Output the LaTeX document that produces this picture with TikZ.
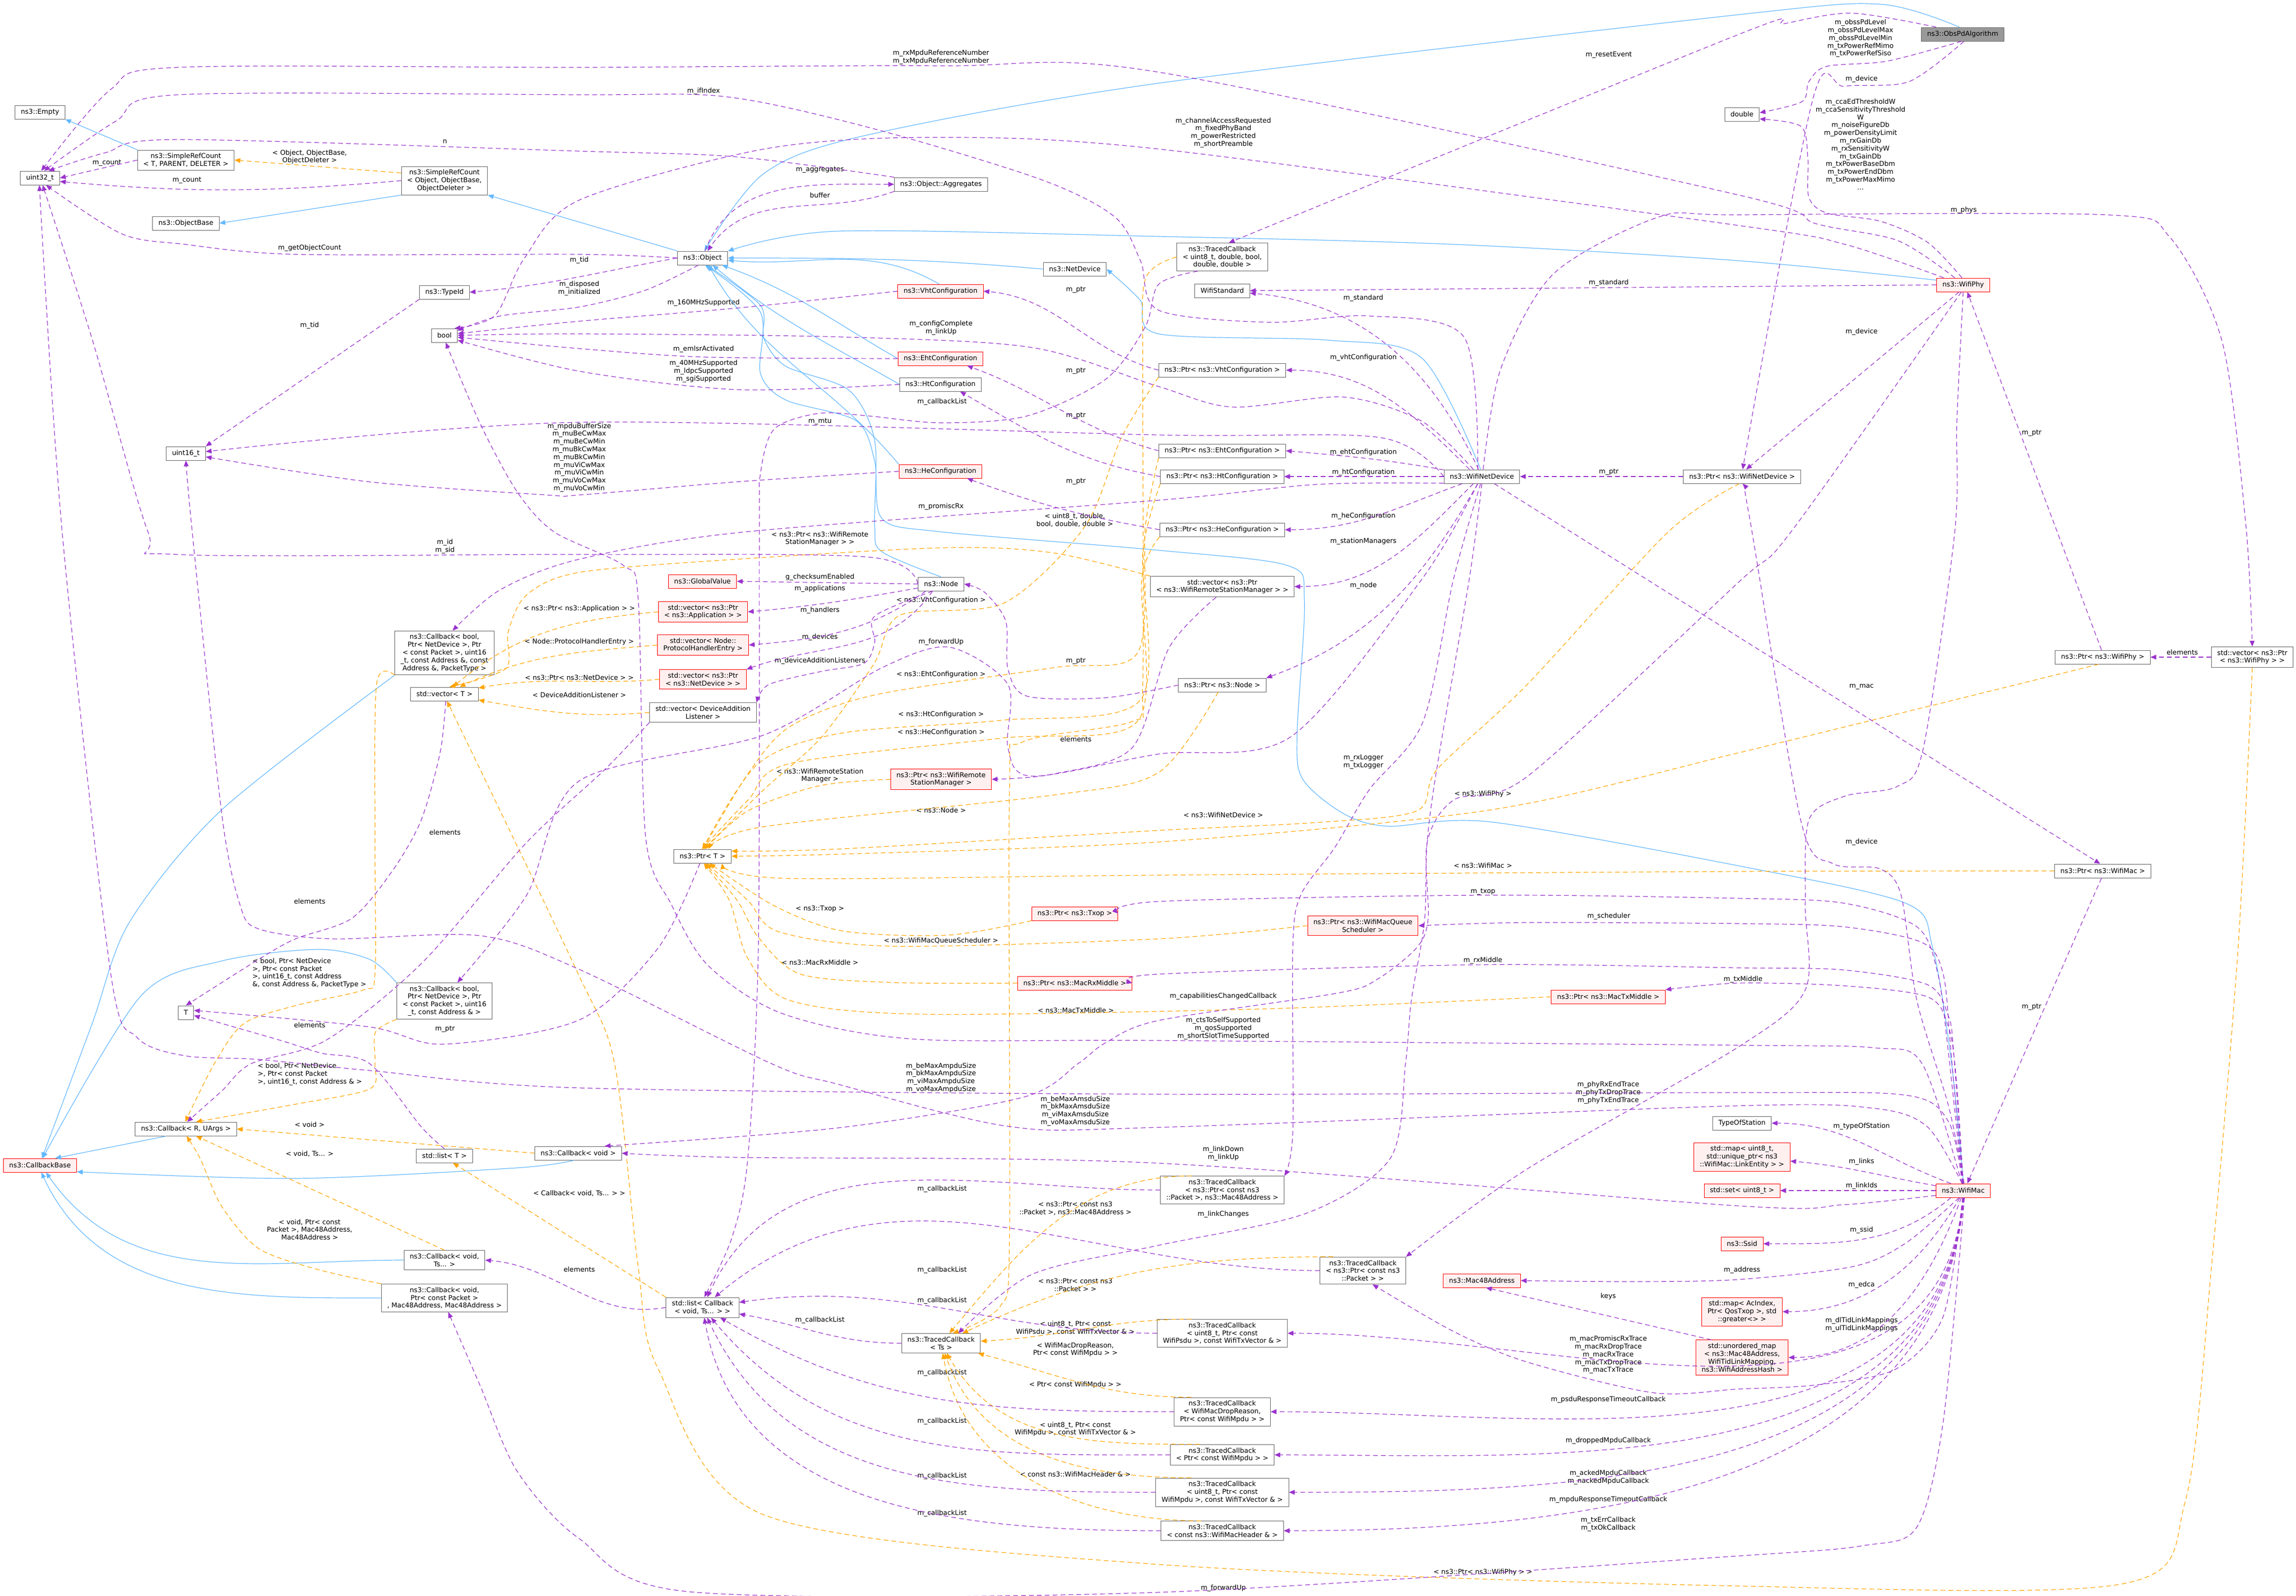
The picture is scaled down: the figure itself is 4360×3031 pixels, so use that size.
\documentclass[tikz,border=0pt]{standalone}
\usepackage{fontspec}
\setmainfont{DejaVu Sans}
\usetikzlibrary{arrows.meta}
\definecolor{usecol}{HTML}{9A32CD}
\definecolor{inhcol}{HTML}{63B8FF}
\definecolor{tplcol}{HTML}{FFA500}
\definecolor{boxcol}{HTML}{666666}
\definecolor{hotcol}{HTML}{FFF0F0}
\definecolor{curcol}{HTML}{999999}
\begin{document}
\begin{tikzpicture}[x=0.5pt, y=-0.5pt, >={Triangle[length=5.5pt,width=4.5pt]}]
	\useasboundingbox (0,0) rectangle (4360,3031);
	\fill[white] (0,0) rectangle (4360,3031);
	\fontsize{6.4}{7.4}\selectfont
	\tikzstyle{cls}=[draw=boxcol, fill=white, line width=0.5pt, inner xsep=5.5pt, inner ysep=3pt, minimum height=13pt, align=center]
	\tikzstyle{hot}=[cls, draw=red, fill=hotcol]
	\tikzstyle{cur}=[cls, fill=curcol]
	\tikzstyle{lbl}=[inner sep=0pt, align=center]
	\tikzstyle{uses}=[->, draw=usecol, line width=0.6pt, dash pattern=on 4.5pt off 3pt]
	\tikzstyle{inst}=[->, draw=tplcol, line width=0.6pt, dash pattern=on 4.5pt off 3pt]
	\tikzstyle{inher}=[->, draw=inhcol, line width=0.6pt]
	\node[cls] (empty) at (76,213) {ns3::Empty};
	\node[cls] (u32) at (76,338) {uint32\_t};
	\node[cls] (srct) at (353,304) {ns3::SimpleRefCount\\< T, PARENT, DELETER >};
	\node[cls] (srco) at (844,343) {ns3::SimpleRefCount\\< Object, ObjectBase,\\ObjectDeleter >};
	\node[cls] (objbase) at (353,424) {ns3::ObjectBase};
	\node[cls] (typeid) at (844,555) {ns3::TypeId};
	\node[cls] (bool) at (844,637) {bool};
	\node[cls] (u16) at (353,861) {uint16\_t};
	\node[cls] (aggr) at (1787,350) {ns3::Object::Aggregates};
	\node[cls] (obj) at (1334,490) {ns3::Object};
	\node[cls] (netdev) at (2041,511) {ns3::NetDevice};
	\node[hot] (vht) at (1786,553) {ns3::VhtConfiguration};
	\node[hot] (eht) at (1786,681) {ns3::EhtConfiguration};
	\node[cls] (ht) at (1786,730) {ns3::HtConfiguration};
	\node[hot] (he) at (1786,895) {ns3::HeConfiguration};
	\node[cls] (tcreset) at (2321,488) {ns3::TracedCallback\\< uint8\_t, double, bool,\\double, double >};
	\node[cls] (stdwifi) at (2321,552) {WifiStandard};
	\node[cls] (pvht) at (2321,703) {ns3::Ptr< ns3::VhtConfiguration >};
	\node[cls] (peht) at (2321,856) {ns3::Ptr< ns3::EhtConfiguration >};
	\node[cls] (pht) at (2321,905) {ns3::Ptr< ns3::HtConfiguration >};
	\node[cls] (phe) at (2321,1006) {ns3::Ptr< ns3::HeConfiguration >};
	\node[cls] (wnd) at (2814,905) {ns3::WifiNetDevice};
	\node[cls] (pwnd) at (3308,905) {ns3::Ptr< ns3::WifiNetDevice >};
	\node[cls] (dbl) at (3308,217) {double};
	\node[cur] (obss) at (3727,65) {ns3::ObsPdAlgorithm};
	\node[hot] (phy) at (3728,541) {ns3::WifiPhy};
	\node[cls] (cbpt) at (844,1240) {ns3::Callback< bool,\\Ptr< NetDevice >, Ptr\\< const Packet >, uint16\\\_t, const Address \&, const\\Address \&, PacketType >};
	\node[cls] (vect) at (844,1318) {std::vector< T >};
	\node[cls] (tpar) at (353,1923) {T};
	\node[cls] (cbad) at (844,1901) {ns3::Callback< bool,\\Ptr< NetDevice >, Ptr\\< const Packet >, uint16\\\_t, const Address \& >};
	\node[hot] (cbbase) at (76,2213) {ns3::CallbackBase};
	\node[cls] (cbr) at (353,2144) {ns3::Callback< R, UArgs >};
	\node[cls] (listt) at (844,2195) {std::list< T >};
	\node[cls] (cbvoid) at (1098,2190) {ns3::Callback< void >};
	\node[cls] (cbts) at (844,2393) {ns3::Callback< void,\\Ts... >};
	\node[cls] (cbmac) at (844,2465) {ns3::Callback< void,\\Ptr< const Packet >\\, Mac48Address, Mac48Address >};
	\node[hot] (gv) at (1334,1104) {ns3::GlobalValue};
	\node[hot] (vapp) at (1335,1162) {std::vector< ns3::Ptr\\< ns3::Application > >};
	\node[hot] (vproto) at (1335,1225) {std::vector< Node::\\ProtocolHandlerEntry >};
	\node[hot] (vdev) at (1335,1290) {std::vector< ns3::Ptr\\< ns3::NetDevice > >};
	\node[cls] (vlisten) at (1335,1353) {std::vector< DeviceAddition\\Listener >};
	\node[cls] (nsnode) at (1787,1109) {ns3::Node};
	\node[hot] (pwrsm) at (1787,1480) {ns3::Ptr< ns3::WifiRemote\\StationManager >};
	\node[cls] (ptrt) at (1334,1626) {ns3::Ptr< T >};
	\node[hot] (ptxop) at (2041,1735) {ns3::Ptr< ns3::Txop >};
	\node[hot] (prx) at (2041,1867) {ns3::Ptr< ns3::MacRxMiddle >};
	\node[cls] (vwrsm) at (2321,1114) {std::vector< ns3::Ptr\\< ns3::WifiRemoteStationManager > >};
	\node[cls] (pnode) at (2321,1301) {ns3::Ptr< ns3::Node >};
	\node[hot] (psched) at (2588,1758) {ns3::Ptr< ns3::WifiMacQueue\\Scheduler >};
	\node[hot] (ptx) at (3054,1893) {ns3::Ptr< ns3::MacTxMiddle >};
	\node[cls] (pphy) at (3993,1248) {ns3::Ptr< ns3::WifiPhy >};
	\node[cls] (vphy) at (4277,1248) {std::vector< ns3::Ptr\\< ns3::WifiPhy > >};
	\node[cls] (pmac) at (3993,1654) {ns3::Ptr< ns3::WifiMac >};
	\node[cls] (listcb) at (1334,2483) {std::list< Callback\\< void, Ts... > >};
	\node[cls] (tcts) at (1787,2551) {ns3::TracedCallback\\< Ts >};
	\node[cls] (tos) at (3308,2133) {TypeOfStation};
	\node[hot] (maplink) at (3308,2197) {std::map< uint8\_t,\\std::unique\_ptr< ns3\\::WifiMac::LinkEntity > >};
	\node[hot] (setu8) at (3308,2261) {std::set< uint8\_t >};
	\node[cls] (tclink) at (2321,2260) {ns3::TracedCallback\\< ns3::Ptr< const ns3\\::Packet >, ns3::Mac48Address >};
	\node[hot] (ssid) at (3308,2362) {ns3::Ssid};
	\node[cls] (tcpkt) at (2588,2413) {ns3::TracedCallback\\< ns3::Ptr< const ns3\\::Packet > >};
	\node[hot] (mac48) at (2814,2432) {ns3::Mac48Address};
	\node[hot] (mapedca) at (3308,2491) {std::map< AcIndex,\\Ptr< QosTxop >, std\\::greater<> >};
	\node[hot] (umap) at (3308,2578) {std::unordered\_map\\< ns3::Mac48Address,\\WifiTidLinkMapping,\\ns3::WifiAddressHash >};
	\node[cls] (tcpsdu) at (2321,2532) {ns3::TracedCallback\\< uint8\_t, Ptr< const\\WifiPsdu >, const WifiTxVector \& >};
	\node[cls] (tcdrop) at (2321,2681) {ns3::TracedCallback\\< WifiMacDropReason,\\Ptr< const WifiMpdu > >};
	\node[cls] (tcmpdu) at (2321,2763) {ns3::TracedCallback\\< Ptr< const WifiMpdu > >};
	\node[cls] (tcmpdutx) at (2321,2834) {ns3::TracedCallback\\< uint8\_t, Ptr< const\\WifiMpdu >, const WifiTxVector \& >};
	\node[cls] (tchdr) at (2321,2907) {ns3::TracedCallback\\< const ns3::WifiMacHeader \& >};
	\node[hot] (mac) at (3728,2261) {ns3::WifiMac};
	\foreach \n/\x/\y/\txt in {
	    lrxmpdu/1787/109/{m\_rxMpduReferenceNumber\\m\_txMpduReferenceNumber},
	    lifindex/1336/173/{m\_ifIndex}, ln/845/269/{n},
	    lsrc/588/298/{< Object, ObjectBase,\\ObjectDeleter >},
	    lcount1/203/310/{m\_count}, lcount2/355/343/{m\_count},
	    laggr/1557/323/{m\_aggregates}, lbuffer/1557/371/{buffer},
	    lgetcount/588/471/{m\_getObjectCount}, ltid1/1100/494/{m\_tid},
	    ldisposed/1100/548/{m\_disposed\\m\_initialized},
	    l160/1336/575/{m\_160MHzSupported}, ltid2/588/618/{m\_tid},
	    lconfig/1787/623/{m\_configComplete\\m\_linkUp},
	    lemlsr/1336/663/{m\_emlsrActivated},
	    l40/1336/705/{m\_40MHzSupported\\m\_ldpcSupported\\m\_sgiSupported},
	    lcbl1/1789/763/{m\_callbackList}, lmtu/1557/801/{m\_mtu},
	    lmpdubuf/1100/869/{m\_mpduBufferSize\\m\_muBeCwMax\\m\_muBeCwMin\\m\_muBkCwMax\\m\_muBkCwMin\\m\_muViCwMax\\m\_muViCwMin\\m\_muVoCwMax\\m\_muVoCwMin},
	    lptrvht/2043/551/{m\_ptr}, lptreht/2043/705/{m\_ptr},
	    lptrht/2043/790/{m\_ptr}, lptrhe/2043/915/{m\_ptr},
	    lpromisc/1787/962/{m\_promiscRx},
	    ltcreset/2041/988/{< uint8\_t, double,\\bool, double, double >},
	    lreset/3055/104/{m\_resetEvent},
	    lchan/2323/252/{m\_channelAccessRequested\\m\_fixedPhyBand\\m\_powerRestricted\\m\_shortPreamble},
	    lstd1/3055/537/{m\_standard}, lstd2/2589/566/{m\_standard},
	    lvhtc/2589/679/{m\_vhtConfiguration}, lehtc/2589/859/{m\_ehtConfiguration},
	    lhtc/2589/897/{m\_htConfiguration}, lptrwnd/3055/897/{m\_ptr},
	    lhec/2589/980/{m\_heConfiguration},
	    lobss/3533/73/{m\_obssPdLevel\\m\_obssPdLevelMax\\m\_obssPdLevelMin\\m\_txPowerRefMimo\\m\_txPowerRefSiso},
	    ldev1/3535/150/{m\_device},
	    lcca/3533/274/{m\_ccaEdThresholdW\\m\_ccaSensitivityThreshold\\W\\m\_noiseFigureDb\\m\_powerDensityLimit\\m\_rxGainDb\\m\_rxSensitivityW\\m\_txGainDb\\m\_txPowerBaseDbm\\m\_txPowerEndDbm\\m\_txPowerMaxMimo\\...},
	    lphys/3729/399/{m\_phys}, ldev2/3535/630/{m\_device}, lptrphy/3858/823/{m\_ptr}}
	    \node[lbl] (\n) at (\x,\y) {\txt};
	\foreach \n/\x/\y/\txt in {
	    lidsid/845/1038/{m\_id\\m\_sid},
	    lvapp/1100/1156/{< ns3::Ptr< ns3::Application > >},
	    lvproto/1100/1219/{< Node::ProtocolHandlerEntry >},
	    lvdev/1100/1287/{< ns3::Ptr< ns3::NetDevice > >},
	    lvlisten/1100/1320/{< DeviceAdditionListener >},
	    lelem1/845/1581/{elements}, lelem2/588/1712/{elements},
	    lelem3/588/1947/{elements}, lptrT/845/1954/{m\_ptr},
	    lwrsm/1557/1023/{< ns3::Ptr< ns3::WifiRemote\\StationManager > >},
	    lgcheck/1557/1096/{g\_checksumEnabled}, lapps/1557/1118/{m\_applications},
	    lpvht/1787/1140/{< ns3::VhtConfiguration >}, lhandlers/1557/1159/{m\_handlers},
	    ldevices/1557/1210/{m\_devices}, lfwd1/1787/1219/{m\_forwardUp},
	    llisteners/1557/1255/{m\_deviceAdditionListeners}, lptrnode/2043/1255/{m\_ptr},
	    lpeht/1787/1281/{< ns3::EhtConfiguration >}, lpht/1787/1357/{< ns3::HtConfiguration >},
	    lphe/1787/1391/{< ns3::HeConfiguration >}, lelem4/2043/1404/{elements},
	    lpwrsm/1557/1473/{< ns3::WifiRemoteStation\\Manager >},
	    lpnode/1787/1539/{< ns3::Node >}, lptxop/1557/1726/{< ns3::Txop >},
	    lpsched/1787/1786/{< ns3::WifiMacQueueScheduler >},
	    lprx/1557/1828/{< ns3::MacRxMiddle >}, lptx/2043/1919/{< ns3::MacTxMiddle >},
	    lstations/2589/1028/{m\_stationManagers}, lnode/2589/1112/{m\_node},
	    llogger/2589/1447/{m\_rxLogger\\m\_txLogger},
	    lpwnd/2323/1548/{< ns3::WifiNetDevice >}, lpphy/2816/1508/{< ns3::WifiPhy >},
	    lpmac/2816/1644/{< ns3::WifiMac >}, ltxop/2816/1693/{m\_txop},
	    lsched/3055/1740/{m\_scheduler}, lrxmid/2816/1824/{m\_rxMiddle},
	    ltxmid/3310/1860/{m\_txMiddle},
	    lcapab/2323/1892/{m\_capabilitiesChangedCallback},
	    lcts/2323/1953/{m\_ctsToSelfSupported\\m\_qosSupported\\m\_shortSlotTimeSupported},
	    lelem5/4144/1239/{elements}, lmac/3535/1304/{m\_mac},
	    ldev3/3535/1599/{m\_device}, lptrmac/3858/1912/{m\_ptr}}
	    \node[lbl] (\n) at (\x,\y) {\txt};
	\foreach \n/\x/\y/\txt in {
	    lvoid/588/2136/{< void >}, lvoidts/588/2191/{< void, Ts... >},
	    lcbmac/588/2335/{< void, Ptr< const\\Packet >, Mac48Address,\\Mac48Address >},
	    llistcb/1100/2266/{< Callback< void, Ts... > >}, lelem6/1100/2411/{elements},
	    lampdu/1787/2047/{m\_beMaxAmpduSize\\m\_bkMaxAmpduSize\\m\_viMaxAmpduSize\\m\_voMaxAmpduSize},
	    lamsdu/2042/2110/{m\_beMaxAmsduSize\\m\_bkMaxAmsduSize\\m\_viMaxAmsduSize\\m\_voMaxAmsduSize},
	    lcbl2/1789/2258/{m\_callbackList},
	    ltclink/2042/2295/{< ns3::Ptr< const ns3\\::Packet >, ns3::Mac48Address >},
	    lcbl3/1789/2412/{m\_callbackList},
	    ltcpkt/2042/2440/{< ns3::Ptr< const ns3\\::Packet > >},
	    lcbl4/1789/2470/{m\_callbackList}, lcbl5/1557/2507/{m\_callbackList},
	    ltcpsdu/2042/2522/{< uint8\_t, Ptr< const\\WifiPsdu >, const WifiTxVector \& >},
	    ltcdrop/2042/2563/{< WifiMacDropReason,\\Ptr< const WifiMpdu > >},
	    lcbl6/1789/2607/{m\_callbackList}, ltcmpdu/2042/2630/{< Ptr< const WifiMpdu > >},
	    lcbl7/1789/2699/{m\_callbackList},
	    ltcmpdutx/2042/2714/{< uint8\_t, Ptr< const\\WifiMpdu >, const WifiTxVector \& >},
	    lcbl8/1789/2803/{m\_callbackList}, ltchdr/2042/2800/{< const ns3::WifiMacHeader \& >},
	    lcbl9/1789/2874/{m\_callbackList},
	    lphytrace/3054/2075/{m\_phyRxEndTrace\\m\_phyTxDropTrace\\m\_phyTxEndTrace},
	    llink/2323/2191/{m\_linkDown\\m\_linkUp}, llinkchg/2323/2306/{m\_linkChanges},
	    laddr/3308/2412/{m\_address}, lkeys/3054/2462/{keys},
	    lmactrace/3054/2573/{m\_macPromiscRxTrace\\m\_macRxDropTrace\\m\_macRxTrace\\m\_macTxDropTrace\\m\_macTxTrace},
	    lpsdu/3054/2658/{m\_psduResponseTimeoutCallback},
	    ldropped/3054/2736/{m\_droppedMpduCallback},
	    lacked/3054/2806/{m\_ackedMpduCallback\\m\_nackedMpduCallback},
	    lmpduresp/3054/2848/{m\_mpduResponseTimeoutCallback},
	    ltxerr/3054/2895/{m\_txErrCallback\\m\_txOkCallback},
	    lvphy/2816/2986/{< ns3::Ptr< ns3::WifiPhy > >}, lfwd2/2323/3016/{m\_forwardUp},
	    ltos/3535/2139/{m\_typeOfStation}, llinks/3535/2206/{m\_links},
	    llinkids/3535/2252/{m\_linkIds}, lssid/3535/2336/{m\_ssid},
	    ledca/3535/2440/{m\_edca},
	    ltid3/3535/2516/{m\_dlTidLinkMappings\\m\_ulTidLinkMappings}}
	    \node[lbl] (\n) at (\x,\y) {\txt};
	\node[lbl, anchor=west, align=left] (lcbpt) at (479,1848) {< bool, Ptr< NetDevice\\>, Ptr< const Packet\\>, uint16\_t, const Address\\\&, const Address \&, PacketType >};
	\node[lbl, anchor=west, align=left] (lcbad) at (489,2040) {< bool, Ptr< NetDevice\\>, Ptr< const Packet\\>, uint16\_t, const Address \& >};
	\path (srct.north west) edge[inher] (empty.south east);
	\path (srco.south west) edge[inher] (objbase.east);
	\path (obj.north west) edge[inher] (srco.south east);
	\draw[inher] plot[smooth] coordinates {(obss.115) (3570,8) (3300,28) (2200,158) (1640,258) (1450,330) (obj.75)};
	\draw[inher] plot[smooth] coordinates {(phy.170) (3300,495) (2760,464) (2200,449) (1591,439) (obj.15)};
	\path (netdev.west) edge[inher, out=175, in=0] (obj.east);
	\path (vht.100) edge[inher, out=150, in=-5] (obj.-5);
	\path (eht.west) edge[inher, out=150, in=-20] (obj.-20);
	\path (ht.west) edge[inher, out=150, in=-40] (obj.-35);
	\path (he.north west) edge[inher, out=130, in=-60] (obj.-50);
	\draw[inher] plot[smooth] coordinates {(nsnode.north) (1675,1048) (1661,1000) (1661,837) (1612,741) (1493,696) (1451,644) (1444,580) (obj.-60)};
	\draw[inher] plot[smooth] coordinates {(mac.88) (3706,2020) (3670,1800) (3618,1715) (3300,1644) (2831,1561) (2635,1569) (2551,1545) (2474,1480) (2463,1396) (2477,1139) (2445,1074) (2200,1045) (1787,1010) (1675,985) (1661,876) (1626,799) (1493,760) (1444,709) (1444,593) (obj.-70)};
	\draw[inher] plot[smooth] coordinates {(wnd.100) (2700,680) (2522,646) (2200,634) (2165,570) (netdev.east)};
	\draw[inher] plot[smooth] coordinates {(cbpt.south west) (421,1538) (246,1751) (175,1944) (cbbase.75)};
	\draw[inher] plot[smooth] coordinates {(cbad.north west) (702,1822) (603,1803) (421,1825) (267,1892) (cbbase.70)};
	\path (cbr.200) edge[inher] (cbbase.25);
	\draw[inher] plot[smooth] coordinates {(cbvoid.-120) (980,2218) (561,2238) (cbbase.-10)};
	\path (cbts.west) edge[inher, out=180, in=-55] (cbbase.-50);
	\path (cbmac.west) edge[inher, out=180, in=-65] (cbbase.-80);
	\path (srco.170) edge[inst] (srct.east);
	\foreach \src/\ang in {vapp/40, vproto/25, vdev/10, vlisten/-10}
	    \path (\src.west) edge[inst, out=185, in=\ang] (vect.\ang);
	\draw[inst] plot[smooth] coordinates {(vwrsm.north west) (2000,1050) (1800,1040) (1400,1062) (1100,1087) (1000,1130) (965,1200) (960,1270) (vect.55)};
	\draw[inst] plot[smooth] coordinates {(vphy.south) (4250,1800) (4200,2400) (4150,2850) (4030,3008) (3300,3012) (2200,2971) (1451,2877) (1250,2600) (1212,2407) (1167,2020) (1094,1841) (vect.-70)};
	\draw[inst] plot[smooth] coordinates {(cbpt.south west) (715,1300) (712,1600) (712,1850) (690,1880) (560,1910) (463,1944) (407,2020) (cbr.95)};
	\draw[inst] plot[smooth] coordinates {(cbad.south west) (713,1960) (712,2020) (702,2068) (561,2097) (cbr.35)};
	\path (cbvoid.west) edge[inst] (cbr.east);
	\path (cbts.north) edge[inst] (cbr.-35);
	\draw[inst] plot[smooth] coordinates {(cbmac.north west) (600,2410) (491,2371) (421,2291) (380,2200) (cbr.-85)};
	\path (listcb.north west) edge[inst] (listt.-40);
	\draw[inst] plot[smooth] coordinates {(pvht.south west) (2130,830) (2060,1000) (1907,1145) (1710,1168) (1660,1260) (1560,1400) (1450,1500) (ptrt.80)};
	\draw[inst] plot[smooth] coordinates {(peht.south west) (2175,1000) (2160,1240) (2000,1268) (1660,1320) (1500,1380) (1420,1470) (ptrt.85)};
	\draw[inst] plot[smooth] coordinates {(pht.south west) (2170,1050) (2165,1330) (1900,1368) (1600,1392) (1440,1450) (ptrt.90)};
	\draw[inst] plot[smooth] coordinates {(phe.south west) (2168,1100) (2160,1370) (1900,1402) (1500,1450) (1420,1520) (ptrt.95)};
	\draw[inst] plot[smooth] coordinates {(pwrsm.west) (1557,1492) (1420,1540) (ptrt.70)};
	\draw[inst] plot[smooth] coordinates {(pnode.-120) (2200,1467) (2000,1510) (1450,1570) (ptrt.50)};
	\draw[inst] plot[smooth] coordinates {(pwnd.-110) (3168,1010) (2900,1300) (2730,1460) (2690,1540) (2500,1562) (2200,1577) (1600,1612) (ptrt.10)};
	\draw[inst] plot[smooth] coordinates {(pphy.-120) (3300,1430) (2831,1538) (2200,1599) (1600,1622) (ptrt.0)};
	\draw[inst] plot[smooth] coordinates {(pmac.west) (3300,1655) (2200,1662) (1490,1668) (ptrt.-20)};
	\draw[inst] plot[smooth] coordinates {(ptxop.south west) (1800,1776) (1600,1768) (1470,1720) (ptrt.-45)};
	\draw[inst] plot[smooth] coordinates {(psched.west) (2200,1783) (1700,1797) (1480,1770) (1420,1710) (ptrt.-60)};
	\draw[inst] plot[smooth] coordinates {(prx.west) (1700,1866) (1520,1850) (1440,1780) (1400,1710) (ptrt.-70)};
	\draw[inst] plot[smooth] coordinates {(ptx.west) (2400,1916) (1750,1926) (1500,1900) (1420,1820) (1385,1710) (ptrt.-80)};
	\draw[inst] plot[smooth] coordinates {(tcreset.west) (2175,530) (2170,700) (2170,1300) (2150,1370) (1940,1410) (1917,1500) (1917,2350) (1900,2480) (tcts.40)};
	\foreach \src/\ang in {tclink/50, tcpkt/25, tcpsdu/3, tcdrop/-15, tcmpdu/-60, tcmpdutx/-70, tchdr/-80}
	    \path (\src.155) edge[inst, out=180, in=\ang] (tcts.\ang);
	\path (srct.west) edge[uses] (u32.east);
	\path (srco.west) edge[uses, out=185, in=-5] (u32.-10);
	\draw[uses] plot[smooth] coordinates {(aggr.north west) (1400,298) (1100,287) (337,265) (200,290) (u32.40)};
	\draw[uses] plot[smooth] coordinates {(obj.west) (1100,483) (561,483) (351,464) (231,444) (u32.-50)};
	\draw[uses] plot[smooth] coordinates {(phy.140) (3604,457) (3449,425) (3300,370) (2200,137) (1787,125) (1100,128) (337,128) (210,170) (u32.80)};
	\draw[uses] plot[smooth] coordinates {(wnd.120) (2780,640) (2600,600) (2410,612) (2200,589) (2166,496) (2117,412) (1977,341) (1661,245) (1381,184) (1100,180) (337,180) (220,230) (u32.60)};
	\draw[uses] plot[smooth] coordinates {(nsnode.west) (1650,1058) (1100,1053) (337,1053) (281,1010) (175,644) (u32.-70)};
	\draw[uses] plot[smooth] coordinates {(mac.97) (3700,2130) (3620,2080) (3300,2075) (2200,2078) (1100,2066) (702,2033) (491,2012) (351,2005) (260,1970) (210,1847) (118,1010) (u32.-95)};
	\path (typeid.south west) edge[uses] (u16.north east);
	\draw[uses] plot[smooth] coordinates {(wnd.west) (2621,831) (2200,826) (1100,802) (u16.5)};
	\draw[uses] plot[smooth] coordinates {(he.west) (1400,915) (1100,940) (1038,940) (701,915) (u16.-10)};
	\draw[uses] plot[smooth] coordinates {(mac.99) (3660,2140) (3560,2105) (3300,2100) (2200,2141) (1914,2139) (1591,2059) (1465,2020) (1100,1841) (912,1777) (631,1783) (491,1764) (456,1719) (421,1545) (365,1010) (u16.-90)};
	\draw[uses] plot[smooth] coordinates {(obj.-120) (1226,551) (1100,583) (950,600) (bool.20)};
	\draw[uses] plot[smooth] coordinates {(vht.west) (1400,585) (1100,610) (bool.8)};
	\draw[uses] plot[smooth] coordinates {(wnd.140) (2700,800) (2551,754) (2340,773) (2200,734) (1960,660) (1600,640) (1100,634) (bool.0)};
	\draw[uses] plot[smooth] coordinates {(eht.west) (1336,678) (1100,662) (bool.-8)};
	\draw[uses] plot[smooth] coordinates {(ht.west) (1400,740) (1100,705) (bool.-20)};
	\draw[uses] plot[smooth] coordinates {(phy.160) (3503,464) (3300,428) (2200,283) (1766,261) (1451,283) (1100,380) (996,490) (940,599) (bool.35)};
	\draw[uses] plot[smooth] coordinates {(mac.101) (3650,2020) (3560,1990) (3300,1985) (2200,1976) (1731,1973) (1486,1925) (1345,1834) (1275,1718) (1226,1590) (1212,1139) (1184,1074) (1052,1010) (982,934) (912,805) (bool.-80)};
	\path (obj.west) edge[uses, out=190, in=5] (typeid.east);
	\path (obj.70) edge[uses, out=70, in=180] (aggr.west);
	\path (aggr.south west) edge[uses, out=200, in=55] (obj.55);
	\draw[uses] plot[smooth] coordinates {(obss.-100) (3584,116) (3469,126) (3435,155) (3422,193) (dbl.5)};
	\draw[uses] plot[smooth] coordinates {(phy.100) (3660,460) (3570,420) (3470,405) (3435,375) (3433,300) (3420,240) (dbl.-15)};
	\draw[uses] plot[smooth] coordinates {(obss.-80) (3625,155) (3503,164) (3442,190) (pwnd.85)};
	\path (phy.-120) edge[uses] (pwnd.60);
	\draw[uses] plot[smooth] coordinates {(mac.82) (3700,2100) (3640,1900) (3610,1700) (3570,1650) (3480,1640) (3420,1560) (3327,1010) (pwnd.-85)};
	\draw[uses] plot[smooth] coordinates {(obss.165) (3516,25) (3388,45) (3300,66) (tcreset.65)};
	\path (phy.west) edge[uses] (stdwifi.east);
	\path (wnd.115) edge[uses, out=115, in=-5] (stdwifi.-5);
	\path (wnd.150) edge[uses, out=135, in=0] (pvht.east);
	\path (wnd.170) edge[uses, out=170, in=-5] (peht.east);
	\path (wnd.west) edge[uses] (pht.east);
	\path (wnd.200) edge[uses, out=200, in=0] (phe.east);
	\path (wnd.220) edge[uses, out=225, in=0] (vwrsm.east);
	\path (wnd.240) edge[uses, out=240, in=20] (pnode.north east);
	\path (pvht.west) edge[uses, out=165, in=-5] (vht.east);
	\path (peht.west) edge[uses, out=165, in=-20] (eht.-15);
	\path (pht.west) edge[uses, out=170, in=-30] (ht.-20);
	\path (phe.west) edge[uses, out=170, in=-20] (he.-15);
	\draw[uses] plot[smooth] coordinates {(pnode.west) (2100,1325) (1950,1322) (1914,1270) (1910,1180) (1870,1125) (nsnode.east)};
	\draw[uses] plot[smooth] coordinates {(vwrsm.-120) (2220,1230) (2150,1420) (2000,1470) (pwrsm.east)};
	\path (pwnd.west) edge[uses] (wnd.east);
	\path (wnd.-30) edge[uses] (pmac.110);
	\path (pmac.-100) edge[uses] (mac.60);
	\path (pphy.100) edge[uses] (phy.-60);
	\path (vphy.west) edge[uses] (pphy.east);
	\draw[uses] plot[smooth] coordinates {(wnd.80) (2850,700) (2950,520) (3150,412) (3300,408) (4000,408) (4120,450) (4220,650) (4265,1000) (vphy.north)};
	\draw[uses] plot[smooth] coordinates {(wnd.190) (2500,920) (2200,950) (1416,1010) (1100,1062) (950,1120) (cbpt.70)};
	\draw[uses] plot[smooth] coordinates {(wnd.-120) (2700,1100) (2450,1400) (2200,1432) (1960,1474) (1914,1420) (1914,1300) (1802,1229) (1675,1268) (1450,1396) (1100,1483) (1000,1700) (cbad.55)};
	\draw[uses] plot[smooth] coordinates {(wnd.-100) (2760,1100) (2702,1371) (2600,1500) (2535,1609) (2470,1700) (2455,1800) (2455,2150) (tclink.north east)};
	\draw[uses] plot[smooth] coordinates {(wnd.-90) (2790,1100) (2730,1450) (2710,1600) (2705,1750) (2680,1900) (2669,2020) (2640,2200) (2481,2304) (2200,2365) (1960,2420) (tcts.30)};
	\path (nsnode.west) edge[uses] (gv.east);
	\path (nsnode.190) edge[uses, out=190, in=5] (vapp.east);
	\path (nsnode.205) edge[uses, out=215, in=5] (vproto.east);
	\path (nsnode.220) edge[uses, out=235, in=20] (vdev.north east);
	\draw[uses] plot[smooth] coordinates {(nsnode.-140) (1661,1170) (1661,1220) (1640,1260) (1560,1275) (1460,1300) (vlisten.north east)};
	\draw[uses] plot[smooth] coordinates {(vect.-80) (836,1428) (800,1557) (745,1654) (668,1744) (561,1783) (491,1822) (tpar.north)};
	\draw[uses] plot[smooth] coordinates {(listt.north) (800,2140) (702,2020) (610,2000) (530,1975) (tpar.-20)};
	\draw[uses] plot[smooth] coordinates {(ptrt.-110) (1250,1800) (1100,1937) (842,1983) (700,1950) (tpar.15)};
	\draw[uses] plot[smooth] coordinates {(vlisten.south west) (1150,1460) (1000,1600) (800,1830) (620,1975) (477,2020) (421,2072) (cbr.80)};
	\path (listcb.west) edge[uses, out=190, in=-5] (cbts.east);
	\draw[uses] plot[smooth] coordinates {(mac.190) (3500,2288) (3300,2290) (2200,2209) (1400,2198) (cbvoid.east)};
	\draw[uses] plot[smooth] coordinates {(phy.-105) (3401,1010) (3300,1107) (2901,1474) (2761,1519) (2710,1600) (2712,1744) (2690,1800) (2615,1860) (2540,1886) (2200,1938) (2100,1980) (2047,2020) (1942,2084) (1591,2142) (cbvoid.15)};
	\draw[uses] plot[smooth] coordinates {(mac.-80) (3690,2700) (3640,2900) (3540,2935) (3300,2955) (2200,3024) (1310,3023) (1100,2922) (982,2794) (912,2632) (cbmac.-75)};
	\draw[uses] plot[smooth] coordinates {(tcreset.-150) (2200,540) (2175,620) (2100,720) (1950,790) (1787,803) (1650,790) (1555,785) (1470,815) (1444,900) (1442,1010) (1440,1800) (1420,2200) (1390,2350) (listcb.80)};
	\foreach \src/\ang in {tclink/65, tcpkt/40, tcpsdu/8, tcdrop/-30, tcmpdu/-50, tcmpdutx/-65, tchdr/-80}
	    \path (\src.west) edge[uses, out=180, in=\ang] (listcb.\ang);
	\path (tcts.west) edge[uses, out=180, in=-10] (listcb.-10);
	\draw[uses] plot[smooth] coordinates {(phy.-90) (3716,800) (3712,1010) (3652,1422) (3604,1493) (3503,1512) (3435,1557) (3428,1718) (3428,1880) (3300,1989) (2900,2220) (tcpkt.north east)};
	\path (mac.150) edge[uses, out=160, in=0] (tos.east);
	\path (mac.170) edge[uses, out=170, in=-5] (maplink.-5);
	\path (mac.west) edge[uses] (setu8.east);
	\path (mac.-150) edge[uses, out=220, in=0] (ssid.east);
	\draw[uses] plot[smooth] coordinates {(mac.-120) (3620,2360) (3520,2405) (3300,2430) (3100,2434) (mac48.east)};
	\path (mac.-115) edge[uses, out=240, in=0] (mapedca.east);
	\path (mac.-105) edge[uses, out=250, in=0] (umap.east);
	\path (umap.150) edge[uses] (mac48.-60);
	\draw[uses] plot[smooth] coordinates {(mac.-95) (3690,2500) (3600,2600) (3450,2630) (3300,2638) (3140,2645) (2901,2587) (2761,2529) (tcpkt.-55)};
	\foreach \dst/\ang in {tcpsdu/-92, tcdrop/-90, tcmpdu/-88, tcmpdutx/-86, tchdr/-84}
	    \path (mac.\ang) edge[uses, out=-95, in=0] (\dst.east);
	\draw[uses] plot[smooth] coordinates {(mac.96) (3700,2000) (3680,1850) (3640,1760) (3500,1715) (3300,1706) (2816,1700) (2200,1712) (ptxop.east)};
	\draw[uses] plot[smooth] coordinates {(mac.94) (3705,2000) (3690,1850) (3650,1790) (3500,1760) (3300,1754) (2900,1752) (psched.east)};
	\draw[uses] plot[smooth] coordinates {(mac.92) (3710,2000) (3700,1930) (3660,1870) (3500,1842) (3300,1838) (2816,1832) (2200,1850) (prx.east)};
	\draw[uses] plot[smooth] coordinates {(mac.90) (3715,2050) (3700,1950) (3660,1893) (3500,1872) (3300,1867) (ptx.north east)};
\end{tikzpicture}
\end{document}
